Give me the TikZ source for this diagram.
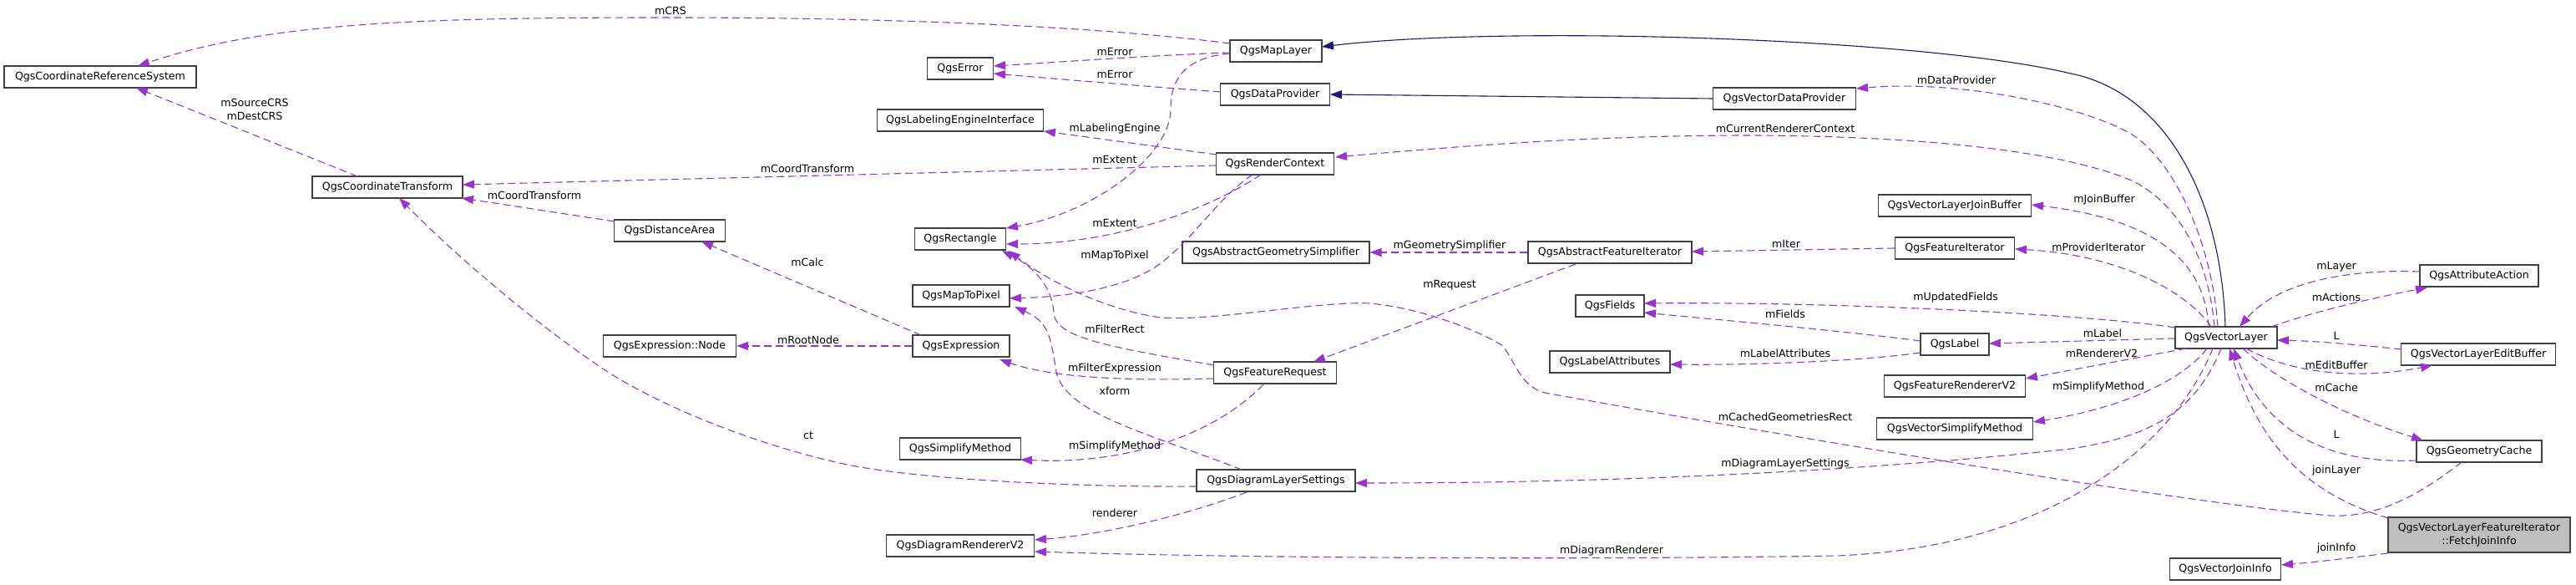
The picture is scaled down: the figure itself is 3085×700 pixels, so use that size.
\documentclass[tikz,border=0pt]{standalone}
\usepackage{fontspec}
\setmainfont{DejaVu Sans}
\usetikzlibrary{arrows.meta,calc}
\definecolor{edgep}{HTML}{9A32CD}
\definecolor{navyb}{HTML}{191970}
\definecolor{boxb}{HTML}{404040}
\definecolor{grayf}{HTML}{BFBFBF}
\begin{document}
\begin{tikzpicture}[x=1pt,y=-1pt,
  cls/.style={draw=boxb,line width=1.1pt,fill=white,minimum height=26pt,inner xsep=1pt,inner ysep=1pt,font=\fontsize{12.6}{16}\selectfont,text=black},
  lab/.style={font=\fontsize{12.6}{16}\selectfont,inner sep=0pt,align=center},
  mem/.style={draw=edgep,line width=1.1pt,dash pattern=on 9pt off 5pt,-{Triangle[length=14pt,width=10pt]}},
  inh/.style={draw=navyb,line width=1.1pt,-{Triangle[length=14pt,width=10pt]}},
]
\useasboundingbox (0,0) rectangle (3085,700);

% nodes
\node[cls,minimum width=230pt] (crs) at (120,92) {QgsCoordinateReferenceSystem};
\node[cls,minimum width=180pt] (ct) at (464,224) {QgsCoordinateTransform};
\node[cls,minimum width=133pt] (da) at (802,276) {QgsDistanceArea};
\node[cls,minimum width=159pt] (enode) at (802,414) {QgsExpression::Node};
\node[cls,minimum width=79pt] (err) at (1150,82) {QgsError};
\node[cls,minimum width=199pt] (lei) at (1150,144) {QgsLabelingEngineInterface};
\node[cls,minimum width=109pt] (rect) at (1150,286) {QgsRectangle};
\node[cls,minimum width=116pt] (m2p) at (1151,354) {QgsMapToPixel};
\node[cls,minimum width=116pt] (expr) at (1151,414) {QgsExpression};
\node[cls,minimum width=145pt] (sm) at (1150,537) {QgsSimplifyMethod};
\node[cls,minimum width=177pt] (drv2) at (1150,653) {QgsDiagramRendererV2};
\node[cls,minimum width=110pt] (ml) at (1528,61) {QgsMapLayer};
\node[cls,minimum width=131pt] (dp) at (1527,113) {QgsDataProvider};
\node[cls,minimum width=141pt] (rc) at (1527,196) {QgsRenderContext};
\node[cls,minimum width=224pt] (ags) at (1528,302) {QgsAbstractGeometrySimplifier};
\node[cls,minimum width=147pt] (fr) at (1527,446) {QgsFeatureRequest};
\node[cls,minimum width=190pt] (dls) at (1528,575) {QgsDiagramLayerSettings};
\node[cls,minimum width=171pt] (vdp) at (2137,118) {QgsVectorDataProvider};
\node[cls,minimum width=196pt] (afi) at (1928,302) {QgsAbstractFeatureIterator};
\node[cls,minimum width=82pt] (fld) at (1928,366) {QgsFields};
\node[cls,minimum width=144pt] (la) at (1928,433) {QgsLabelAttributes};
\node[cls,minimum width=183pt] (vljb) at (2341,246) {QgsVectorLayerJoinBuffer};
\node[cls,minimum width=143pt] (fi) at (2341,297) {QgsFeatureIterator};
\node[cls,minimum width=82pt] (lbl) at (2341,412) {QgsLabel};
\node[cls,minimum width=169pt] (frv2) at (2341,462) {QgsFeatureRendererV2};
\node[cls,minimum width=187pt] (vsm) at (2341,513) {QgsVectorSimplifyMethod};
\node[cls,minimum width=122pt] (vl) at (2666,404) {QgsVectorLayer};
\node[cls,minimum width=142pt] (aa) at (2969,330) {QgsAttributeAction};
\node[cls,minimum width=185pt] (vleb) at (2968,424) {QgsVectorLayerEditBuffer};
\node[cls,minimum width=150pt] (gc) at (2969,540) {QgsGeometryCache};
\node[cls,minimum width=218pt,minimum height=42pt,fill=grayf,align=center] (fji) at (2969,640) {QgsVectorLayerFeatureIterator\\::FetchJoinInfo};
\node[cls,minimum width=133pt] (vji) at (2665,681) {QgsVectorJoinInfo};

% inheritance
\draw[inh] ([shift={(-1,-13)}]vl.center) .. controls (2660,230) and (2590,110) .. (2480,88) .. controls (2300,45) and (1800,30) .. ([shift={(55,-5)}]ml.center);
\draw[inh] (vdp.west) -- ([shift={(66,0)}]dp.center);

% members
\draw[mem] ([shift={(-55,-9)}]ml.center) .. controls (1300,30) and (1050,21) .. (800,21) .. controls (500,21) and (320,27) .. ([shift={(45,-13)}]crs.center);
\draw[mem] ([shift={(-55,2)}]ml.center) .. controls (1380,66) and (1260,75) .. ([shift={(40,-3)}]err.center);
\draw[mem] ([shift={(-65,-3)}]dp.center) .. controls (1380,104) and (1260,94) .. ([shift={(40,6)}]err.center);
\draw[mem] ([shift={(-55,3)}]ml.center) .. controls (1430,68) and (1402,85) .. (1402,130) .. controls (1403,185) and (1310,255) .. ([shift={(55,-13)}]rect.center);
\draw[mem] ([shift={(-70,-11)}]rc.center) -- ([shift={(100,13)}]lei.center);
\draw[mem] ([shift={(-70,2)}]rc.center) -- ([shift={(90,-3)}]ct.center);
\draw[mem] ([shift={(-17,13)}]rc.center) .. controls (1440,255) and (1330,292) .. ([shift={(55,6)}]rect.center);
\draw[mem] ([shift={(-27,13)}]rc.center) .. controls (1460,235) and (1430,285) .. (1390,315) .. controls (1350,345) and (1280,355) .. ([shift={(58,3)}]m2p.center);
\draw[mem] ([shift={(-66,-11)}]da.center) -- ([shift={(89,13)}]ct.center);
\draw[mem] ([shift={(-36,-13)}]ct.center) -- ([shift={(43,13)}]crs.center);
\draw[mem] ([shift={(-48,-13)}]expr.center) -- ([shift={(38,13)}]da.center);
\draw[mem] (expr.west) -- (enode.east);
\draw[mem] ([shift={(-95,7)}]dls.center) .. controls (1300,583) and (1120,575) .. (1025,558) .. controls (930,540) and (790,490) .. (710,433) .. controls (640,385) and (550,310) .. ([shift={(14,13)}]ct.center);
\draw[mem] ([shift={(-73,-9)}]fr.center) .. controls (1330,415) and (1265,405) .. (1262,375) .. controls (1260,340) and (1235,318) .. ([shift={(50,14)}]rect.center);
\draw[mem] ([shift={(-73,7)}]fr.center) .. controls (1350,456) and (1260,452) .. ([shift={(46,16)}]expr.center);
\draw[mem] ([shift={(-14,14)}]fr.center) .. controls (1450,525) and (1340,556) .. ([shift={(72,13)}]sm.center);
\draw[mem] ([shift={(-41,-13)}]dls.center) .. controls (1380,520) and (1275,495) .. (1265,445) .. controls (1258,400) and (1255,385) .. ([shift={(64,13)}]m2p.center);
\draw[mem] ([shift={(-35,14)}]dls.center) .. controls (1420,617) and (1320,640) .. ([shift={(89,-7)}]drv2.center);
\draw[mem] ([shift={(-16,13)}]vl.center) .. controls (2600,540) and (2450,655) .. (2200,665) .. controls (1900,670) and (1500,668) .. ([shift={(89,7)}]drv2.center);
\draw[mem] ([shift={(-6,13)}]vl.center) .. controls (2630,490) and (2580,522) .. (2480,537) .. controls (2300,557) and (2000,578) .. ([shift={(95,3)}]dls.center);
\draw[mem] ([shift={(-21,13)}]gc.center) .. controls (2900,590) and (2850,620) .. (2790,617) .. controls (2600,600) and (2100,515) .. (1850,470) .. controls (1822,462) and (1818,440) .. (1800,414) .. controls (1770,395) and (1700,368) .. (1640,363) .. controls (1580,360) and (1450,385) .. (1390,380) .. controls (1330,372) and (1260,340) .. ([shift={(58,14)}]rect.center);
\draw[mem] ([shift={(-10,-13)}]vl.center) .. controls (2650,300) and (2610,200) .. (2555,162) .. controls (2500,128) and (2350,95) .. ([shift={(86,-12)}]vdp.center);
\draw[mem] ([shift={(-14,-13)}]vl.center) .. controls (2645,310) and (2610,245) .. (2555,217) .. controls (2470,180) and (2300,163) .. (2100,162) .. controls (1900,162) and (1750,175) .. ([shift={(72,-8)}]rc.center);
\draw[mem] ([shift={(-21,-13)}]vl.center) .. controls (2640,300) and (2560,260) .. ([shift={(92,-1)}]vljb.center);
\draw[mem] ([shift={(-18,-13)}]vl.center) .. controls (2620,350) and (2540,305) .. ([shift={(72,1)}]fi.center);
\draw[mem] (fi.west) -- ([shift={(98,-1)}]afi.center);
\draw[mem] (afi.west) -- (ags.east);
\draw[mem] ([shift={(-41,14)}]afi.center) -- ([shift={(46,-13)}]fr.center);
\draw[mem] ([shift={(-61,-12)}]vl.center) .. controls (2500,376) and (2200,361) .. ([shift={(41,-3)}]fld.center);
\draw[mem] ([shift={(-41,-4)}]lbl.center) .. controls (2200,395) and (2050,382) .. ([shift={(41,8)}]fld.center);
\draw[mem] ([shift={(-41,10)}]lbl.center) .. controls (2230,432) and (2100,437) .. ([shift={(72,3)}]la.center);
\draw[mem] ([shift={(-61,1)}]vl.center) -- ([shift={(41,-1)}]lbl.center);
\draw[mem] ([shift={(-48,13)}]vl.center) -- ([shift={(85,-9)}]frv2.center);
\draw[mem] ([shift={(-23,13)}]vl.center) .. controls (2610,460) and (2530,490) .. ([shift={(94,-8)}]vsm.center);
\draw[mem] ([shift={(54,-13)}]vl.center) .. controls (2780,370) and (2850,355) .. ([shift={(-62,14)}]aa.center);
\draw[mem] ([shift={(-71,-5)}]aa.center) .. controls (2820,322) and (2730,335) .. ([shift={(16,-13)}]vl.center);
\draw[mem] ([shift={(-92,-6)}]vleb.center) .. controls (2820,412) and (2770,408) .. ([shift={(61,3)}]vl.center);
\draw[mem] ([shift={(24,13)}]vl.center) .. controls (2760,455) and (2850,450) .. ([shift={(-55,13)}]vleb.center);
\draw[mem] ([shift={(20,13)}]vl.center) .. controls (2720,450) and (2800,495) .. ([shift={(-67,-13)}]gc.center);
\draw[mem] ([shift={(-75,11)}]gc.center) .. controls (2780,556) and (2710,510) .. ([shift={(9,13)}]vl.center);
\draw[mem] ([shift={(-109,-20)}]fji.center) .. controls (2760,590) and (2705,530) .. ([shift={(4,13)}]vl.center);
\draw[mem] ([shift={(-109,22)}]fji.center) .. controls (2810,668) and (2770,673) .. ([shift={(67,-5)}]vji.center);

% labels
\node[lab] (l1) at (803,13) {mCRS};
\node[lab] (l2) at (1335,62) {mError};
\node[lab] (l3) at (1335,89) {mError};
\node[lab] (l4) at (1335,154) {mLabelingEngine};
\node[lab] (l5) at (1335,191) {mExtent};
\node[lab] (l6) at (967,202) {mCoordTransform};
\node[lab] (l7) at (640,234) {mCoordTransform};
\node[lab] (l8) at (1335,267) {mExtent};
\node[lab] (l9) at (1335,306) {mMapToPixel};
\node[lab] (l10) at (305,131) {mSourceCRS\\mDestCRS};
\node[lab] (l11) at (967,314) {mCalc};
\node[lab] (l12) at (968,407) {mRootNode};
\node[lab] (l13) at (968,521) {ct};
\node[lab] (l14) at (1335,394) {mFilterRect};
\node[lab] (l15) at (1335,441) {mFilterExpression};
\node[lab] (l16) at (1335,468) {xform};
\node[lab] (l17) at (1335,534) {mSimplifyMethod};
\node[lab] (l18) at (1335,614) {renderer};
\node[lab] (l19) at (1930,659) {mDiagramRenderer};
\node[lab] (l20) at (2138,555) {mDiagramLayerSettings};
\node[lab] (l21) at (2138,499) {mCachedGeometriesRect};
\node[lab] (l22) at (2343,96) {mDataProvider};
\node[lab] (l23) at (2138,154) {mCurrentRendererContext};
\node[lab] (l24) at (2520,239) {mJoinBuffer};
\node[lab] (l25) at (2513,296) {mProviderIterator};
\node[lab] (l26) at (2139,292) {mIter};
\node[lab] (l27) at (1736,294) {mGeometrySimplifier};
\node[lab] (l28) at (1736,341) {mRequest};
\node[lab] (l29) at (2342,356) {mUpdatedFields};
\node[lab] (l30) at (2138,376) {mFields};
\node[lab] (l31) at (2138,423) {mLabelAttributes};
\node[lab] (l32) at (2518,399) {mLabel};
\node[lab] (l33) at (2517,423) {mRendererV2};
\node[lab] (l34) at (2513,463) {mSimplifyMethod};
\node[lab] (l35) at (2798,356) {mActions};
\node[lab] (l36) at (2798,319) {mLayer};
\node[lab] (l37) at (2798,402) {L};
\node[lab] (l38) at (2798,437) {mEditBuffer};
\node[lab] (l39) at (2798,464) {mCache};
\node[lab] (l40) at (2798,520) {L};
\node[lab] (l41) at (2798,563) {joinLayer};
\node[lab] (l42) at (2798,656) {joinInfo};
\end{tikzpicture}
\end{document}
